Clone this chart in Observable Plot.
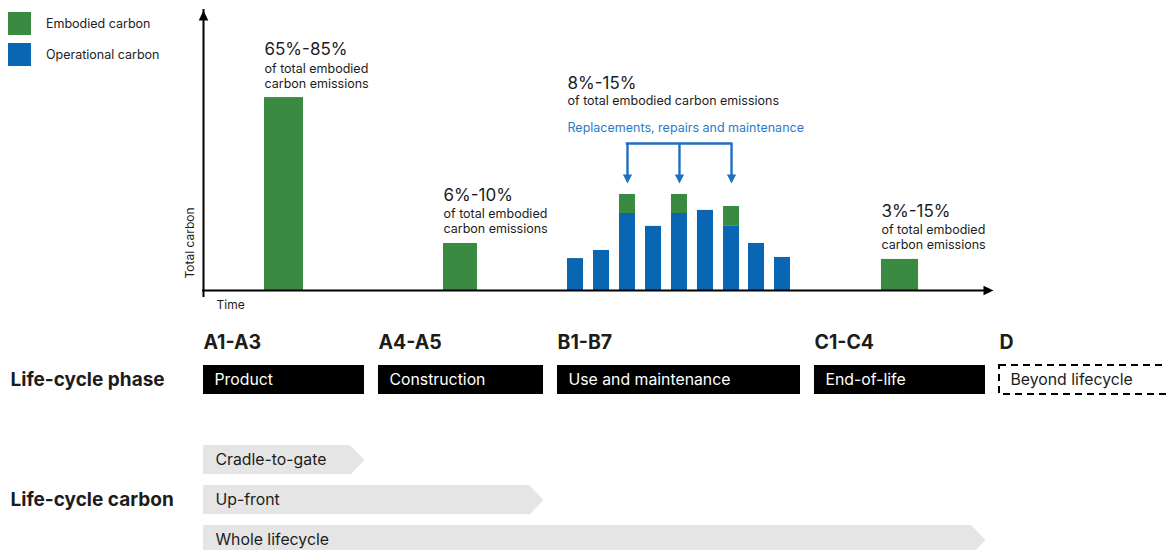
<!DOCTYPE html>
<html>
<head>
<meta charset="utf-8">
<script src="https://cdn.jsdelivr.net/npm/d3@7"></script>
<script src="https://cdn.jsdelivr.net/npm/@observablehq/plot@0.6"></script>
<style>
  html, body { margin: 0; padding: 0; background: #fff; overflow: hidden; }
  #wrap { position: relative; width: 1167px; height: 550px; overflow: hidden; font-family: Inter, "Noto Sans", sans-serif; }
  #wrap svg { display: block; }
  #legend { position: absolute; left: 8px; top: 11.5px; }
  #legend .lg-swatches { font-family: Inter, sans-serif; font-size: 12.5px; color: #222; margin: 0; }
  #legend .lg-swatches-columns .lg-swatch { margin: 0 0 8.6px 0; padding: 0; }
  #legend .lg-swatch > svg { margin-right: 15px; }
</style>
</head>
<body>
<div id="wrap"></div>
<script>
// ---------------- data ----------------
const carbonTypes = ["Embodied carbon", "Operational carbon"];

const phaseCodes = ["A1-A3", "A4-A5", "B1-B7", "C1-C4", "D"];
const phaseNames = ["Product", "Construction", "Use and maintenance", "End-of-life", "Beyond lifecycle"];
const phaseStart = [0, 22.15, 44.81, 77.34, 100.76];   // time units
const phaseEnd = [22.15, 44.81, 77.34, 100.76, 130];
const phaseInLifecycle = [true, true, true, true, false];

const stageBarPhase = ["A1-A3", "A4-A5", "C1-C4"];
const stageBarStart = [7.72, 30.38, 85.82];
const stageBarEnd = [12.66, 34.68, 90.51];
const stageBarEmbodied = [68.9, 16.8, 11.1];
const stageBarShare = ["65%-85%", "6%-10%", "3%-15%"];
const shareNote = "of total embodied\ncarbon emissions";

const useBarTime = [47.09, 50.38, 53.67, 56.96, 60.25, 63.54, 66.84, 70.0, 73.29];
const useBarOperational = [11.4, 14.3, 27.5, 22.9, 27.5, 28.6, 22.9, 16.8, 11.8];
const useBarEmbodied = [0, 0, 6.8, 0, 6.8, 0, 7.1, 0, 0];
const useShare = "8%-15%";
const useShareNote = "of total embodied carbon emissions";
const useEventLabel = "Replacements, repairs and maintenance";

const scopeNames = ["Cradle-to-gate", "Up-front", "Whole lifecycle"];
const scopeEndPhase = ["A1-A3", "A4-A5", "C1-C4"];

const axisLabels = ["Total carbon", "Time"];
const rowTitles = ["Life-cycle phase", "Life-cycle carbon"];

// ---------------- style / layout ----------------
const FONT = "Inter, 'Noto Sans', sans-serif";
const GREEN = "#3a8a42", BLUE = "#0866b3", BRACKET = "#1e6fbe", BRACKET_TEXT = "#2a7ac6";
const INK = "#1c1c1c", GRAY = "#e5e5e5";
const W = 1167, TOP_H = 318, BOT_H = 232;
const ML = 203, MR = 174, TOP_MT = 10, TOP_MB = 28;
const xDomain = [0, 100], yDomain = [0, 100];
const pxY = (yDomain[1] - yDomain[0]) / (TOP_H - TOP_MT - TOP_MB);
const pxX = (xDomain[1] - xDomain[0]) / (W - ML - MR);
const BOX_FONT = 15.8, CODE_FONT = 19.5, TITLE_FONT = 19;

const headUp = {draw(c) { c.moveTo(0, 0); c.lineTo(-4.8, 10); c.lineTo(4.8, 10); c.closePath(); }};
const headRight = {draw(c) { c.moveTo(0, 0); c.lineTo(-10, -4.8); c.lineTo(-10, 4.8); c.closePath(); }};
const headDown = {draw(c) { c.moveTo(0, 0); c.lineTo(-4.6, -9); c.lineTo(4.6, -9); c.closePath(); }};
const chevronTip = {draw(c) { c.moveTo(-1, -14.5); c.lineTo(0, -14.5); c.lineTo(14, 0); c.lineTo(0, 14.5); c.lineTo(-1, 14.5); c.closePath(); }};

const stageIdx = d3.range(stageBarPhase.length);
const useIdx = d3.range(useBarTime.length);
const repIdx = useIdx.filter(i => useBarEmbodied[i] > 0);
const barHalf = 8 * pxX;
const useTop = d3.max(useIdx, i => useBarOperational[i] + useBarEmbodied[i]);
const useLeft = useBarTime[0] - barHalf;
const bracketY = useTop + 51 * pxY;
const headBaseY = useTop + 17 * pxY;
const headTipY = useTop + 11 * pxY;

// ---------------- top chart ----------------
const topPlot = Plot.plot({
  width: W, height: TOP_H,
  marginTop: TOP_MT, marginBottom: TOP_MB, marginLeft: ML, marginRight: MR,
  x: {domain: xDomain, axis: null},
  y: {domain: yDomain, axis: null},
  style: {fontFamily: FONT, color: INK, background: "white"},
  marks: [
    Plot.rect(stageIdx, {x1: i => stageBarStart[i], x2: i => stageBarEnd[i], y1: 0, y2: i => stageBarEmbodied[i], fill: GREEN}),
    Plot.rect(useIdx, {x1: i => useBarTime[i] - barHalf, x2: i => useBarTime[i] + barHalf, y1: 0, y2: i => useBarOperational[i], fill: BLUE}),
    Plot.rect(repIdx, {x1: i => useBarTime[i] - barHalf, x2: i => useBarTime[i] + barHalf, y1: i => useBarOperational[i], y2: i => useBarOperational[i] + useBarEmbodied[i], fill: GREEN}),
    // axes with arrow heads
    Plot.ruleX([xDomain[0]], {y1: yDomain[0], y2: yDomain[1], insetTop: 6, stroke: "black", strokeWidth: 2, strokeLinecap: "square"}),
    Plot.ruleY([yDomain[0]], {x1: xDomain[0], x2: xDomain[1], insetRight: 6, stroke: "black", strokeWidth: 2, strokeLinecap: "square"}),
    Plot.dot([0], {x: xDomain[0], y: yDomain[1], symbol: headUp, fill: "black", stroke: "none"}),
    Plot.dot([0], {x: xDomain[1], y: yDomain[0], symbol: headRight, fill: "black", stroke: "none"}),
    Plot.text([axisLabels[0]], {frameAnchor: "bottom-left", rotate: -90, textAnchor: "start", lineAnchor: "middle", dx: -13, dy: -12, fontSize: 12, fill: INK}),
    Plot.text([axisLabels[1]], {frameAnchor: "bottom-left", textAnchor: "start", lineAnchor: "middle", dx: 13, dy: 15, fontSize: 12, fill: INK}),
    // share annotations
    Plot.text(stageIdx, {x: i => stageBarStart[i], y: i => stageBarEmbodied[i], text: i => stageBarShare[i], textAnchor: "start", lineAnchor: "middle", dy: -48, fontSize: 17, fill: INK}),
    Plot.text(stageIdx, {x: i => stageBarStart[i], y: i => stageBarEmbodied[i], text: () => shareNote, textAnchor: "start", lineAnchor: "bottom", dy: -10, fontSize: 12.5, lineHeight: 1.2, fill: INK}),
    Plot.text([useShare], {x: useLeft, y: useTop, textAnchor: "start", lineAnchor: "middle", dy: -111, fontSize: 17, fill: INK}),
    Plot.text([useShareNote], {x: useLeft, y: useTop, textAnchor: "start", lineAnchor: "middle", dy: -93, fontSize: 12.5, fill: INK}),
    Plot.text([useEventLabel], {x: useLeft, y: useTop, textAnchor: "start", lineAnchor: "middle", dy: -66, fontSize: 12.5, fill: BRACKET_TEXT}),
    // bracket
    Plot.ruleY([bracketY], {x1: useBarTime[repIdx[0]], x2: useBarTime[repIdx[repIdx.length - 1]], stroke: BRACKET, strokeWidth: 2.4, strokeLinecap: "square"}),
    Plot.ruleX(repIdx, {x: i => useBarTime[i], y1: bracketY, y2: headBaseY, stroke: BRACKET, strokeWidth: 2.4}),
    Plot.dot(repIdx, {x: i => useBarTime[i], y: headTipY, symbol: headDown, fill: BRACKET, stroke: "none"})
  ]
});

// ---------------- bottom table ----------------
const phaseIdx = d3.range(phaseCodes.length);
const solidIdx = phaseIdx.filter(i => phaseInLifecycle[i]);
const outIdx = phaseIdx.filter(i => !phaseInLifecycle[i]);
const rowKeys = ["code", "phase", "spacer", ...scopeNames];
const scopeEnd = s => phaseEnd[phaseCodes.indexOf(scopeEndPhase[scopeNames.indexOf(s)])];

const bottomPlot = Plot.plot({
  width: W, height: BOT_H,
  marginTop: 0, marginBottom: 0, marginLeft: ML, marginRight: MR,
  x: {domain: xDomain, axis: null},
  y: {type: "band", domain: rowKeys, range: [-4.5, 246.5], padding: 0.275, axis: null},
  style: {fontFamily: FONT, color: INK, background: "white"},
  marks: [
    Plot.text(phaseIdx, {x: i => phaseStart[i], y: () => "code", text: i => phaseCodes[i], textAnchor: "start", lineAnchor: "middle", dy: 3, fontSize: CODE_FONT, fontWeight: "bold", fill: INK}),
    Plot.barX(solidIdx, {x1: i => phaseStart[i], x2: i => phaseEnd[i], y: () => "phase", fill: "black", insetRight: 14}),
    Plot.barX(outIdx, {x1: i => phaseStart[i], x2: i => phaseEnd[i], y: () => "phase", fill: "white", stroke: "black", strokeWidth: 2, strokeDasharray: "7,5"}),
    Plot.text(solidIdx, {x: i => phaseStart[i], y: () => "phase", text: i => phaseNames[i], textAnchor: "start", lineAnchor: "middle", dx: 11, fontSize: BOX_FONT, fill: "white"}),
    Plot.text(outIdx, {x: i => phaseStart[i], y: () => "phase", text: i => phaseNames[i], textAnchor: "start", lineAnchor: "middle", dx: 11, fontSize: BOX_FONT, fill: INK}),
    Plot.barX(scopeNames, {x1: xDomain[0], x2: scopeEnd, y: d => d, fill: GRAY, insetRight: 28}),
    Plot.dot(scopeNames, {x: scopeEnd, y: d => d, dx: -28, symbol: chevronTip, fill: GRAY, stroke: "none"}),
    Plot.text(scopeNames, {x: xDomain[0], y: d => d, textAnchor: "start", lineAnchor: "middle", dx: 12, fontSize: BOX_FONT, fill: INK}),
    Plot.text([rowTitles[0]], {y: () => "phase", frameAnchor: "left", dx: -(ML - 10), textAnchor: "start", lineAnchor: "middle", fontSize: TITLE_FONT, fontWeight: "bold", fill: INK}),
    Plot.text([rowTitles[1]], {y: () => scopeNames[1], frameAnchor: "left", dx: -(ML - 10), textAnchor: "start", lineAnchor: "middle", fontSize: TITLE_FONT, fontWeight: "bold", fill: INK})
  ]
});

const wrap = document.getElementById("wrap");
wrap.appendChild(topPlot);
wrap.appendChild(bottomPlot);

const legend = Plot.legend({
  color: {type: "ordinal", domain: carbonTypes, range: [GREEN, BLUE]},
  legend: "swatches", columns: 1, swatchSize: 23, className: "lg"
});
const legendBox = document.createElement("div");
legendBox.id = "legend";
legendBox.appendChild(legend);
wrap.appendChild(legendBox);
</script>
</body>
</html>
